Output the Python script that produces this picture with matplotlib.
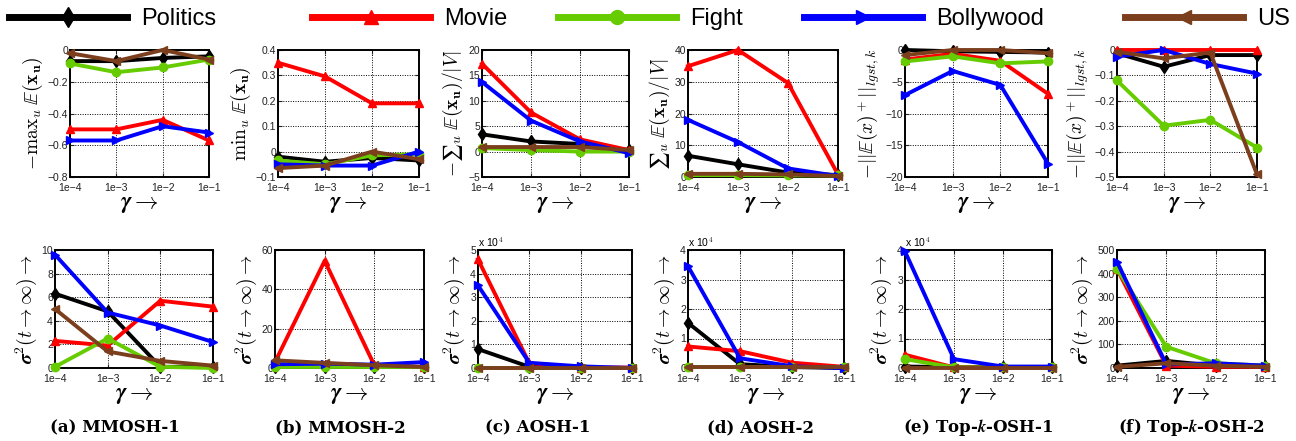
import matplotlib
matplotlib.use("Agg")
import matplotlib.pyplot as plt
from matplotlib.lines import Line2D

plt.rcParams["mathtext.fontset"] = "cm"
plt.rcParams["font.family"] = "Liberation Sans"

# ---------------------------------------------------------------------------
# Datos (orden de series: Politics, Movie, Fight, Bollywood, US)
# ---------------------------------------------------------------------------
gammas = [1e-4, 1e-3, 1e-2, 1e-1]
gamma_labels = ["1e\u22124", "1e\u22123", "1e\u22122", "1e\u22121"]
series = ["Politics", "Movie", "Fight", "Bollywood", "US"]

# fila superior
neg_max_e = [
    [-0.07, -0.07, -0.05, -0.04],
    [-0.50, -0.50, -0.44, -0.57],
    [-0.085, -0.14, -0.11, -0.06],
    [-0.57, -0.57, -0.48, -0.52],
    [-0.02, -0.07, 0.0, -0.06],
]
min_e = [
    [-0.02, -0.04, -0.025, -0.035],
    [0.35, 0.296, 0.19, 0.19],
    [-0.035, -0.05, -0.015, -0.01],
    [-0.05, -0.055, -0.055, 0.0],
    [-0.065, -0.055, 0.0, -0.03],
]
neg_mean_e = [
    [3.4, 2.0, 1.5, 0.3],
    [17.3, 7.7, 2.4, 0.3],
    [0.7, 0.3, 0.0, 0.0],
    [13.7, 6.1, 2.0, -0.3],
    [0.9, 0.9, 0.9, 0.3],
]
mean_e = [
    [6.7, 4.0, 1.4, 0.6],
    [34.9, 40.0, 29.6, 0.8],
    [0.6, 0.6, 0.5, 0.5],
    [18.0, 11.0, 2.7, 0.3],
    [1.0, 1.0, 0.8, 0.3],
]
lgst_topk1 = [
    [0.0, -0.2, -0.3, -0.4],
    [-1.5, -0.6, -1.7, -6.9],
    [-1.8, -1.0, -2.1, -1.8],
    [-7.1, -3.3, -5.5, -17.9],
    [-0.8, 0.0, 0.0, -0.5],
]
lgst_topk2 = [
    [-0.013, -0.066, -0.02, -0.02],
    [0.0, 0.0, 0.0, 0.0],
    [-0.12, -0.298, -0.275, -0.384],
    [-0.026, 0.0, -0.055, -0.093],
    [-0.007, -0.033, -0.01, -0.49],
]

# fila inferior: varianza en t -> infinito
var_mmosh1 = [
    [6.3, 4.8, 0.1, 0.1],
    [2.3, 1.9, 5.7, 5.2],
    [0.1, 2.5, 0.1, 0.0],
    [9.6, 4.7, 3.6, 2.2],
    [5.0, 1.4, 0.6, 0.2],
]
var_mmosh2 = [
    [0.5, 0.5, 0.5, 0.5],
    [3.0, 54.5, 1.4, 0.5],
    [0.5, 0.5, 0.5, 0.5],
    [1.9, 2.2, 1.7, 3.0],
    [3.9, 2.6, 1.4, 0.5],
]
var_aosh1 = [
    [8000, 500, 0, 0],
    [46000, 2000, 200, 200],
    [200, 200, 200, 200],
    [35000, 2200, 700, 0],
    [200, 200, 200, 200],
]
var_aosh2 = [
    [15300, 1300, 300, 0],
    [7300, 5700, 1800, 400],
    [200, 200, 200, 200],
    [34500, 3300, 600, 0],
    [200, 200, 200, 200],
]
var_topk1 = [
    [500, 300, 300, 300],
    [4500, 200, 200, 200],
    [3000, 200, 200, 200],
    [39500, 3000, 500, 500],
    [100, 100, 100, 100],
]
var_topk2 = [
    [10, 30, 10, 10],
    [420, 10, 5, 5],
    [420, 90, 20, 10],
    [450, 15, 20, 10],
    [5, 20, 10, 5],
]

captions = ["(a) MMOSH-1", "(b) MMOSH-2", "(c) AOSH-1", "(d) AOSH-2",
            r"(e) Top-$\boldsymbol{k}$-OSH-1", r"(f) Top-$\boldsymbol{k}$-OSH-2"]

colores = ["#000000", "#ff0000", "#66cc00", "#0000ff", "#7b3f1e"]
marcadores = ["d", "^", "o", ">", "<"]

# ---------------------------------------------------------------------------
# Configuración de paneles
# ---------------------------------------------------------------------------
top_panels = [
    (neg_max_e, r"$-\mathrm{max}_u\;\mathbb{E}(\mathbf{x_u})$", (-0.8, 0.0), 0.2, 1),
    (min_e, r"$\mathrm{min}_u\;\mathbb{E}(\mathbf{x_u})$", (-0.1, 0.4), 0.1, 1),
    (neg_mean_e, "$-\u2211_u\\;\\mathbb{E}(\\mathbf{x_u})/|V|$", (-5, 20), 5, 1),
    (mean_e, "$\u2211_u\\;\\mathbb{E}(\\mathbf{x_u})/|V|$", (0, 40), 10, 1),
    (lgst_topk1, r"$-||\mathbb{E}(x)^+||_{lgst,k}$", (-20, 0), 5, 1),
    (lgst_topk2, r"$-||\mathbb{E}(x)^+||_{lgst,k}$", (-0.5, 0.0), 0.1, 1),
]
var_label = r"$\boldsymbol{\sigma}^\mathbf{2}(t\rightarrow\infty)\rightarrow$"
bottom_panels = [
    (var_mmosh1, var_label, (0, 10), 2, 1),
    (var_mmosh2, var_label, (0, 60), 20, 1),
    (var_aosh1, var_label, (0, 5), 1, 1e4),
    (var_aosh2, var_label, (0, 4), 1, 1e4),
    (var_topk1, var_label, (0, 4), 1, 1e4),
    (var_topk2, var_label, (0, 500), 100, 1),
]

# posiciones en pixeles (izq, der) medidas sobre la figura de 1296x441
top_x = [(70, 209), (278, 419), (482, 629), (688, 838), (905, 1048), (1117, 1257)]
bot_x = [(55, 213), (275, 424), (478, 632), (688, 844), (905, 1052), (1117, 1265)]
caption_x = [115, 340, 538, 760, 978, 1192]
W, H = 1296, 441

fig = plt.figure(figsize=(12.96, 4.41), dpi=100)


def dibujar(ax, datos, ylabel, ylim, paso, escala):
    for vals, c, m in zip(datos, colores, marcadores):
        ax.plot(gammas, [v / escala for v in vals], color=c, marker=m,
                lw=2.8, ms=6, markeredgecolor=c, clip_on=False, zorder=3)
    ax.set_xscale("log")
    ax.set_xlim(gammas[0], gammas[-1])
    ax.set_xticks(gammas)
    ax.set_xticklabels(gamma_labels)
    ax.minorticks_off()
    ax.set_ylim(*ylim)
    n = int(round((ylim[1] - ylim[0]) / paso))
    yt = [ylim[0] + i * paso for i in range(n + 1)]
    ax.set_yticks(yt)
    ax.set_yticklabels(["{:g}".format(round(v, 3)).replace("-", "\u2212") for v in yt])
    ax.tick_params(direction="in", labelsize=7.5, length=3,
                   top=True, right=True, colors="#222222")
    ax.tick_params(axis="x", pad=4)
    ax.tick_params(axis="y", pad=1.5)
    ax.grid(True, linestyle=(0, (1, 1.5)), color="black", lw=0.7)
    for s in ax.spines.values():
        s.set_linewidth(1.4)
    ax.set_ylabel(ylabel, fontsize=14, labelpad=2)
    ax.set_xlabel(r"$\boldsymbol{\gamma}\rightarrow$", fontsize=17, labelpad=0)
    if escala != 1:
        ax.text(0.0, 1.01, r"x 10$^4$", transform=ax.transAxes,
                fontsize=7.5, va="bottom", ha="left")


for i, (datos, yl, lim, paso, esc) in enumerate(top_panels):
    x0, x1 = top_x[i]
    ax = fig.add_axes([x0 / W, 1 - 177 / H, (x1 - x0) / W, 127 / H])
    dibujar(ax, datos, yl, lim, paso, esc)

for i, (datos, yl, lim, paso, esc) in enumerate(bottom_panels):
    x0, x1 = bot_x[i]
    ax = fig.add_axes([x0 / W, 1 - 368 / H, (x1 - x0) / W, 118 / H])
    dibujar(ax, datos, yl, lim, paso, esc)
    fig.text(caption_x[i] / W, 1 - 428 / H, captions[i], ha="center",
             va="center", fontsize=12, fontweight="bold",
             family="DejaVu Serif")

# Leyenda: una entrada por serie, colocadas a mano
leg_x = [9, 312, 558, 804, 1125]
for nombre, c, m, lx in zip(series, colores, marcadores, leg_x):
    h = Line2D([], [], color=c, marker=m, lw=5, ms=10, markeredgecolor=c)
    fig.legend(handles=[h], labels=[nombre], loc="center left",
               bbox_to_anchor=(lx / W, 1 - 19 / H), frameon=False,
               fontsize=17, handlelength=5.0, handletextpad=0.6,
               borderpad=0, borderaxespad=0, numpoints=1)

fig.savefig("out.png", dpi=100)
